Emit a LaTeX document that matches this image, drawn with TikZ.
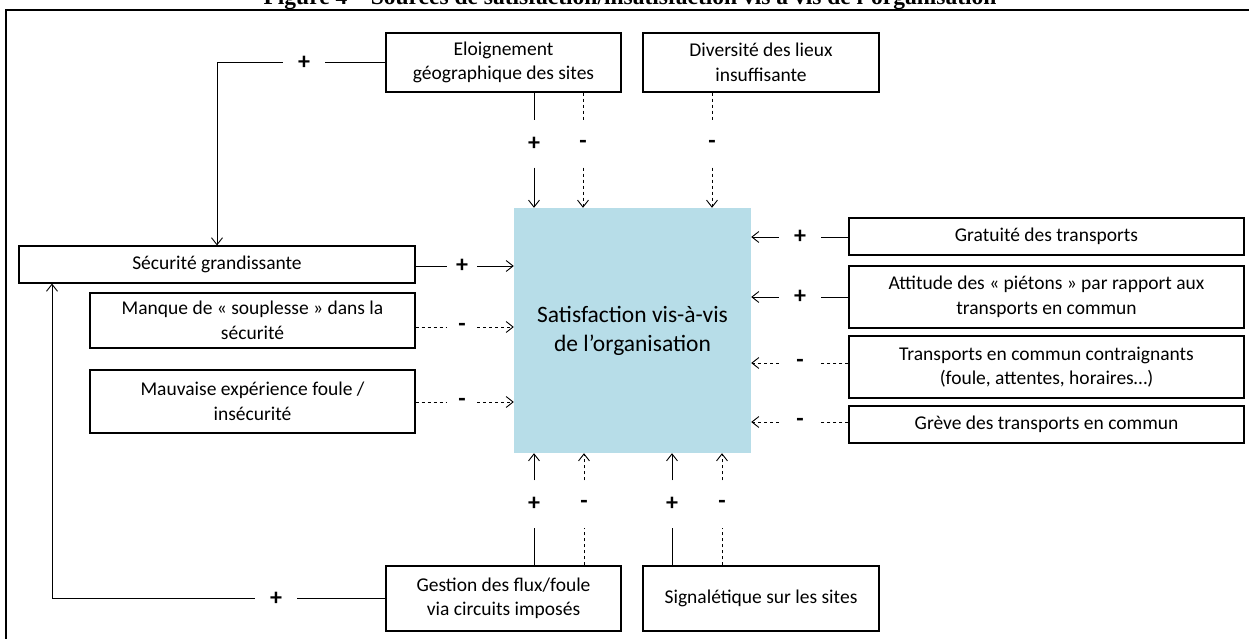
\documentclass[tikz,border=0pt]{standalone}
\usepackage{fontspec}
\setmainfont{Carlito}
\newfontfamily\titlefont{Liberation Serif}
\usetikzlibrary{arrows.meta,shadows}
\definecolor{satblue}{HTML}{B7DDE8}

\begin{document}
\begin{tikzpicture}[x=1pt,y=-1pt,line join=miter,
  >={Straight Barb[length=7pt,width=11pt]},
  box/.style={draw,line width=1.1pt,fill=white,inner sep=0pt,align=center,
    font=\fontsize{19.5}{24.5}\selectfont,
    drop shadow={shadow xshift=1.2pt,shadow yshift=-1.2pt,fill=black!70,opacity=0.8}},
  sgn/.style={inner sep=0pt,minimum width=42pt,minimum height=47pt,
    font=\fontsize{24}{24}\selectfont\bfseries},
  plusline/.style={line width=0.9pt},
  minusline/.style={line width=0.9pt,dash pattern=on 3pt off 3pt}]
\useasboundingbox (0,0) rectangle (1249,639);
\clip (0,0) rectangle (1249,639);

% frame and caption
\draw[line width=1.5pt] (1249,10) -- (6,10) -- (6,639);
\node[font=\titlefont\bfseries\fontsize{23.5}{26}\selectfont,anchor=base,inner sep=0pt] (title) at (630,5)
  {Figure 4 – Sources de satisfaction/insatisfaction vis à vis de l’organisation};

% centre
\node[fill=satblue,minimum width=237pt,minimum height=245pt,align=center,
  font=\fontsize{23.5}{29}\selectfont] (sat) at (632.5,330.5) {Satisfaction vis-à-vis\\de l’organisation};

% sources
\node[box,minimum width=235pt,minimum height=59pt] (elo) at (503.5,62.5) {Eloignement\\géographique des sites};
\node[box,minimum width=236pt,minimum height=59pt] (div) at (761,62.5) {Diversité des lieux\\insuffisante};
\node[box,minimum width=396pt,minimum height=37pt] (secu) at (217,264.5) {Sécurité grandissante};
\node[box,minimum width=325pt,minimum height=55pt] (manq) at (252.5,320.5) {Manque de « souplesse » dans la\\sécurité};
\node[box,minimum width=325pt,minimum height=63pt] (mauv) at (252.5,401.5) {Mauvaise expérience foule /\\insécurité};
\node[box,minimum width=395pt,minimum height=37pt] (grat) at (1046.5,236.5) {Gratuité des transports};
\node[box,minimum width=395pt,minimum height=62pt] (atti) at (1046.5,297) {Attitude des « piétons » par rapport aux\\transports en commun};
\node[box,minimum width=395pt,minimum height=62pt] (trans) at (1046.5,367) {Transports en commun contraignants\\(foule, attentes, horaires…)};
\node[box,minimum width=395pt,minimum height=37pt] (grev) at (1046.5,424.5) {Grève des transports en commun};
\node[box,minimum width=235pt,minimum height=65pt] (gest) at (503.5,598.5) {Gestion des flux/foule\\via circuits imposés};
\node[box,minimum width=236pt,minimum height=65pt] (signa) at (761,598.5) {Signalétique sur les sites};

% top
\node[sgn] (pe) at (534,144) {+};
\node[sgn] (me) at (583,144) {-};
\node[sgn] (md) at (712,144) {-};
\draw[plusline] (elo.south -| pe) -- (pe);
\draw[plusline,->] (pe) -- (pe |- sat.north);
\draw[minusline] (elo.south -| me) -- (me);
\draw[minusline,->] (me) -- (me |- sat.north);
\draw[minusline] (div.south -| md) -- (md);
\draw[minusline,->] (md) -- (md |- sat.north);

% loop eloignement -> securite
\node[sgn] (pl) at (304,62.5) {+};
\coordinate (cl) at (217,62.5);
\draw[plusline] (elo.west) -- (pl);
\draw[plusline,->] (pl) -- (cl) -- (cl |- secu.north);

% left
\node[sgn,minimum width=30pt] (ps) at (462,266) {+};
\node[sgn,minimum width=30pt] (mm) at (462,327) {-};
\node[sgn,minimum width=30pt] (mv) at (462,402) {-};
\draw[plusline] (secu.east |- ps) -- (ps);
\draw[plusline,->] (ps) -- (ps -| sat.west);
\draw[minusline] (manq.east |- mm) -- (mm);
\draw[minusline,->] (mm) -- (mm -| sat.west);
\draw[minusline] (mauv.east |- mv) -- (mv);
\draw[minusline,->] (mv) -- (mv -| sat.west);

% right
\node[sgn] (pg) at (800,237) {+};
\node[sgn] (pa) at (800,297) {+};
\node[sgn] (mt) at (800,363) {-};
\node[sgn] (mg) at (800,422) {-};
\draw[plusline] (grat.west |- pg) -- (pg);
\draw[plusline,->] (pg) -- (pg -| sat.east);
\draw[plusline] (atti.west |- pa) -- (pa);
\draw[plusline,->] (pa) -- (pa -| sat.east);
\draw[minusline] (trans.west |- mt) -- (mt);
\draw[minusline,->] (mt) -- (mt -| sat.east);
\draw[minusline] (grev.west |- mg) -- (mg);
\draw[minusline,->] (mg) -- (mg -| sat.east);

% bottom
\node[sgn] (pb) at (534,504) {+};
\node[sgn] (mb) at (584,504) {-};
\node[sgn] (pc) at (672,504) {+};
\node[sgn] (mc) at (722,504) {-};
\draw[plusline] (gest.north -| pb) -- (pb);
\draw[plusline,->] (pb) -- (pb |- sat.south);
\draw[minusline] (gest.north -| mb) -- (mb);
\draw[minusline,->] (mb) -- (mb |- sat.south);
\draw[plusline] (signa.north -| pc) -- (pc);
\draw[plusline,->] (pc) -- (pc |- sat.south);
\draw[minusline] (signa.north -| mc) -- (mc);
\draw[minusline,->] (mc) -- (mc |- sat.south);

% loop gestion -> securite
\node[sgn] (pf) at (276,598.5) {+};
\coordinate (cf) at (52,598.5);
\draw[plusline] (gest.west) -- (pf);
\draw[plusline,->] (pf) -- (cf) -- (cf |- secu.south);
\end{tikzpicture}
\end{document}
